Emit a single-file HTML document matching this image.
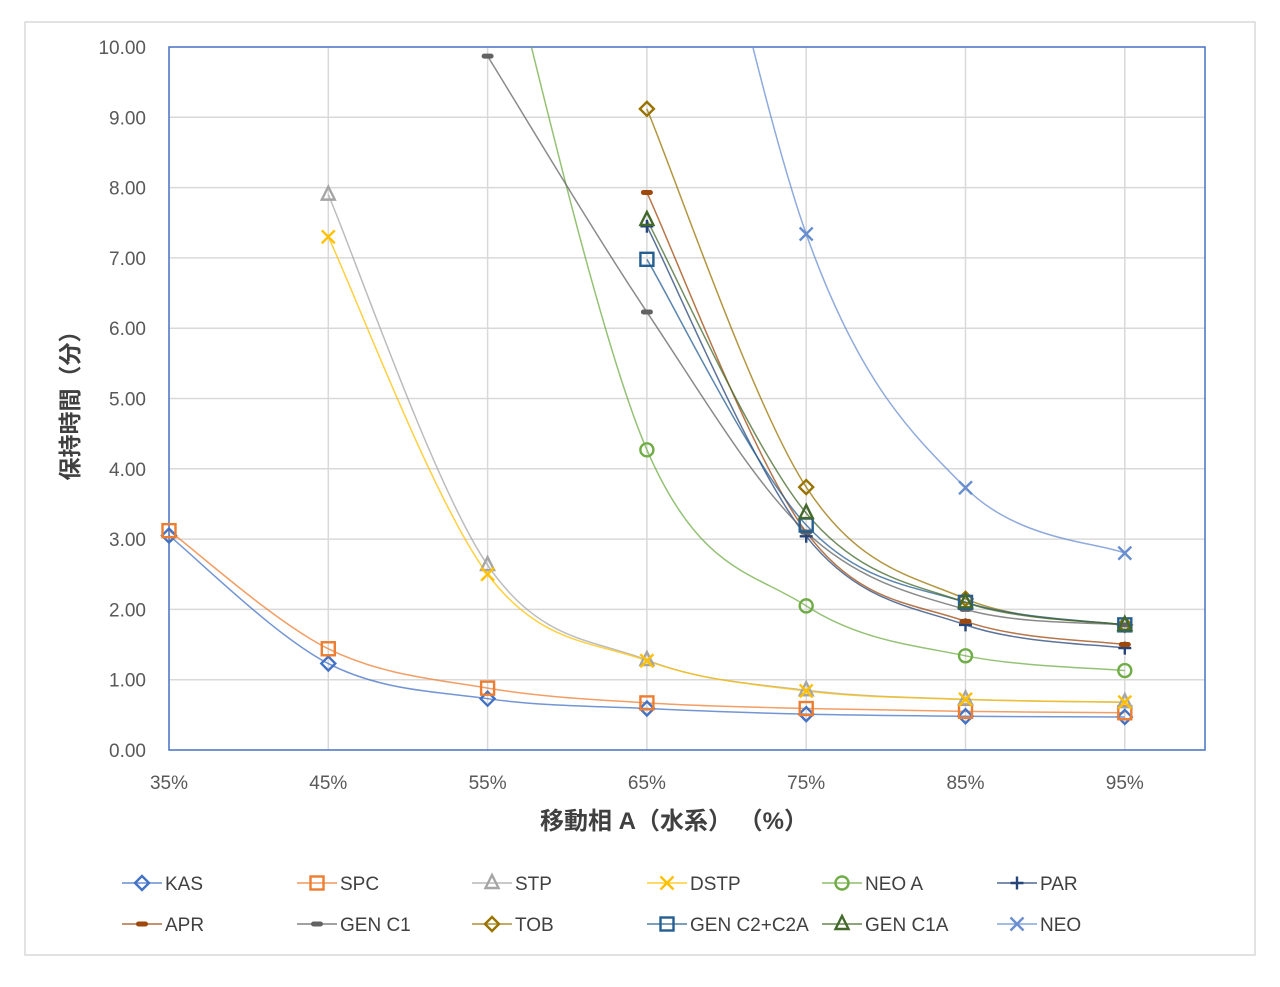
<!DOCTYPE html>
<html><head><meta charset="utf-8"><style>
body{margin:0;background:#fff;}
svg{display:block;font-family:"Liberation Sans","Noto Sans CJK JP",sans-serif;}
</style></head><body>
<svg id="c" width="1280" height="987" xmlns="http://www.w3.org/2000/svg">
<rect x="25" y="22" width="1230" height="933" fill="#fff" stroke="#d9d9d9" stroke-width="1.5"/>
<defs><clipPath id="clp"><rect x="169" y="47" width="1036" height="703"/></clipPath></defs>
<g id="grid"></g>
<g id="series" clip-path="url(#clp)"></g>
<g id="marks"></g>
<g id="labels" font-size="19" fill="#595959"></g>
<text x="0" y="0" transform="translate(78,400) rotate(-90)" text-anchor="middle" font-size="23" font-weight="bold" fill="#404040">保持時間（分）</text>
<text x="674" y="829" text-anchor="middle" font-size="24" font-weight="bold" fill="#404040">移動相 A（水系） （%）</text>
<g id="legend" font-size="19" fill="#404040"></g>
</svg>
<script>
const NS="http://www.w3.org/2000/svg";
const X0=169,DX=159.3,Y0=750,K=70.3;
const px=i=>X0+DX*i, py=v=>Y0-K*v;
function el(t,a,p){const e=document.createElementNS(NS,t);for(const k in a)e.setAttribute(k,a[k]);(p||document.getElementById('c')).appendChild(e);return e;}
const G=document.getElementById('grid'),S=document.getElementById('series'),M=document.getElementById('marks'),L=document.getElementById('labels'),LG=document.getElementById('legend');
for(let v=1;v<=9;v++)el('line',{x1:X0,x2:1205,y1:py(v),y2:py(v),stroke:'#d9d9d9','stroke-width':1.5},G);
for(let i=1;i<=6;i++)el('line',{x1:px(i),x2:px(i),y1:47,y2:750,stroke:'#d9d9d9','stroke-width':1.5},G);
el('rect',{x:X0,y:47,width:1036,height:703,fill:'none',stroke:'#4472C4','stroke-width':1.5},G);
for(let v=0;v<=10;v++){const t=el('text',{x:146,y:py(v)+7,'text-anchor':'end'},L);t.textContent=v.toFixed(2);}
for(let i=0;i<7;i++){const t=el('text',{x:px(i),y:789,'text-anchor':'middle'},L);t.textContent=(35+10*i)+'%';}
const D=[
['KAS','#4472C4','diamond',[3.05,1.23,0.73,0.59,0.51,0.48,0.47]],
['SPC','#ED7D31','square',[3.12,1.44,0.88,0.67,0.59,0.55,0.53]],
['STP','#A5A5A5','tri',[null,7.9,2.63,1.28,0.85,0.72,0.68]],
['DSTP','#FFC000','x',[null,7.3,2.5,1.27,0.84,0.72,0.68]],
['NEO A','#70AD47','circle',[null,null,12.5,4.27,2.05,1.34,1.13]],
['PAR','#264478','plus',[null,null,null,7.45,3.04,1.78,1.45]],
['APR','#9E480E','dash',[null,null,null,7.93,3.1,1.83,1.5]],
['GEN C1','#636363','dash',[null,null,9.87,6.23,3.1,2.0,1.78]],
['TOB','#997300','diamond',[null,null,null,9.12,3.74,2.15,1.78]],
['GEN C2+C2A','#255E91','square',[null,null,null,6.98,3.2,2.1,1.78]],
['GEN C1A','#43682B','tri',[null,null,null,7.54,3.37,2.1,1.78]],
['NEO','#698ED0','x',[null,null,null,16.5,7.34,3.73,2.8]],
];
function marker(type,x,y,c,g){
 const s={fill:'none',stroke:c,'stroke-width':2.4};
 if(type==='diamond')el('polygon',Object.assign({points:`${x},${y-7} ${x+7},${y} ${x},${y+7} ${x-7},${y}`,fill:'#fff'},s),g);
 else if(type==='square')el('rect',Object.assign({x:x-6.5,y:y-6.5,width:13,height:13,fill:'#fff'},s),g);
 else if(type==='tri')el('polygon',Object.assign({points:`${x},${y-8} ${x+6.5},${y+5} ${x-6.5},${y+5}`,fill:'#fff'},s),g);
 else if(type==='circle')el('circle',Object.assign({cx:x,cy:y,r:6.5,fill:'#fff'},s),g);
 else if(type==='x'){el('path',Object.assign({d:`M${x-6.5},${y-6.5}L${x+6.5},${y+6.5}M${x+6.5},${y-6.5}L${x-6.5},${y+6.5}`},s),g);}
 else if(type==='plus'){el('path',Object.assign({d:`M${x-6.5},${y}L${x+6.5},${y}M${x},${y-6.5}L${x},${y+6.5}`},s),g);}
 else if(type==='dash')el('rect',{x:x-6,y:y-2.5,width:12,height:5,rx:2.5,fill:c},g);
}
D.forEach(([n,c,m,v],si)=>{
 const pts=[];v.forEach((y,i)=>{if(y!=null)pts.push([px(i),py(y)]);});
 let d=`M${pts[0][0]},${pts[0][1]}`;
 for(let i=0;i<pts.length-1;i++){const p0=pts[Math.max(0,i-1)],p1=pts[i],p2=pts[i+1],p3=pts[Math.min(pts.length-1,i+2)];const t=1/6;
  d+=`C${p1[0]+(p2[0]-p0[0])*t},${p1[1]+(p2[1]-p0[1])*t} ${p2[0]-(p3[0]-p1[0])*t},${p2[1]-(p3[1]-p1[1])*t} ${p2[0]},${p2[1]}`;}
 el('path',{d,fill:'none',stroke:c,'stroke-width':1.5,'stroke-opacity':0.75},S);
 pts.forEach(p=>{if(p[1]>=47)marker(m,p[0],p[1],c,M);});
 const col=si%6,row=Math.floor(si/6);const lx=122+col*175,ly=883+row*41;
 el('line',{x1:lx,x2:lx+40,y1:ly,y2:ly,stroke:c,'stroke-width':1.5,'stroke-opacity':0.8},LG);
 marker(m,lx+20,ly,c,LG);
 const t=el('text',{x:lx+43,y:ly+7},LG);t.textContent=n;
});
</script>
</body></html>
